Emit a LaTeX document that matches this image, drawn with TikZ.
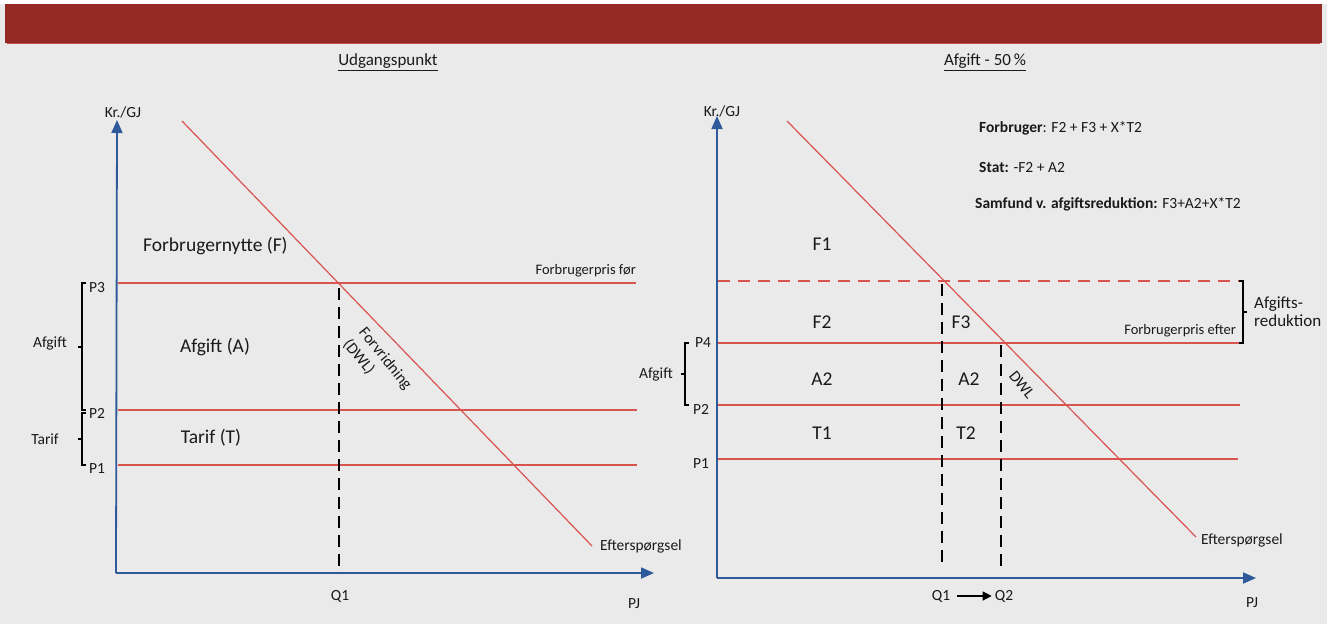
\documentclass[tikz,border=0pt]{standalone}
\usepackage{fontspec}
\setmainfont{Carlito}
\usetikzlibrary{arrows.meta}
\definecolor{bg}{HTML}{EAEAEA}
\definecolor{barred}{HTML}{952A25}
\definecolor{barline}{HTML}{C0504D}
\definecolor{dred}{HTML}{D9534F}
\definecolor{axblue}{HTML}{2E5A9C}
\definecolor{txt}{HTML}{1A1A1A}
\tikzset{
  axis/.style={axblue,line width=1.8pt,-{Triangle[length=13pt,width=11pt]}},
  demand/.style={dred,line width=1.2pt},
  price/.style={dred,line width=1.5pt},
  pricedash/.style={dred,line width=1.5pt,dash pattern=on 12pt off 8pt},
  qdash/.style={black,line width=1.5pt,dash pattern=on 12pt off 7pt},
  brk/.style={black,line width=1.3pt},
  xs/.style={text=txt,font=\fontsize{14.5}{16}\selectfont,inner sep=0pt},
  sm/.style={text=txt,font=\fontsize{15.5}{18}\selectfont,inner sep=0pt},
  md/.style={text=txt,font=\fontsize{17}{19}\selectfont,inner sep=0pt},
  lg/.style={text=txt,font=\fontsize{19.5}{22}\selectfont,inner sep=0pt},
  rot/.style={text=txt,font=\fontsize{16}{18}\selectfont,inner sep=0pt,rotate=-51},
}
\begin{document}
\begin{tikzpicture}[x=1pt,y=-1pt]
\useasboundingbox (0,0) rectangle (1327,624);
\fill[bg] (0,0) rectangle (1327,624);
\fill[white] (0,0) rectangle (1327,4);
\fill[barred] (5,4) rectangle (1322,43);
\draw[barline,line width=1pt] (7,43.5) -- (1320,43.5);

% ===== Left chart =====
\node[md] (t1) at (388,62) {\underline{Udgangspunkt}};
\coordinate (LO) at (116,573);
\coordinate (LY) at (117,120);
\coordinate (LX) at (654,573);
\draw[axis] (LO) -- (LY);
\draw[axis] (LO) -- (LX);
\node[sm] (lkr) at (123,112) {Kr./GJ};
\node[sm] (lpj) at (634,604) {PJ};

\coordinate (LD1) at (182,121);
\coordinate (LD2) at (592,546);
\draw[demand] (LD1) -- (LD2);
\node[sm,anchor=west] (lef) at (600,546) {Efterspørgsel};

\coordinate (LP3a) at (118,283); \coordinate (LP3b) at (636,283);
\coordinate (LP2a) at (118,410); \coordinate (LP2b) at (637,410);
\coordinate (LP1a) at (118,465); \coordinate (LP1b) at (637,465);
\draw[price] (LP3a) -- (LP3b);
\draw[price] (LP2a) -- (LP2b);
\draw[price] (LP1a) -- (LP1b);
\node[xs,anchor=east] (lfb) at (636,271) {Forbrugerpris før};

\coordinate (LQt) at (339,288); \coordinate (LQb) at (339,573);
\draw[qdash] (LQt) -- (LQb);
\node[sm] (lq1) at (340,596) {Q1};

\node[lg,anchor=west] (lF) at (143,246) {Forbrugernytte (F)};
\node[lg] (lA) at (215,347) {Afgift (A)};
\node[lg] (lT) at (211,438) {Tarif (T)};
\node[rot] (lfv) at (385,359) {Forvridning};
\node[rot] (ldwl) at (359,357) {(DWL)};

\node[sm] (lp3) at (97,288) {P3};
\node[sm] (lp2) at (97,413) {P2};
\node[sm] (lp1) at (97,469) {P1};
\draw[brk] (86,283) -- (82,283) -- (82,410) -- (86,410);
\draw[brk] (82,347) -- (78,347);
\draw[brk] (86,413) -- (82,413) -- (82,465) -- (86,465);
\draw[brk] (82,439) -- (78,439);
\node[sm] (laf) at (50,343) {Afgift};
\node[sm] (lta) at (45,439) {Tarif};

% ===== Right chart =====
\node[md] (t2) at (985,62) {\underline{Afgift - 50\,\%}};
\coordinate (RO) at (717,578);
\coordinate (RY) at (717,116);
\coordinate (RX) at (1256,578);
\draw[axis] (RO) -- (RY);
\draw[axis] (RO) -- (RX);
\node[sm] (rkr) at (722,111) {Kr./GJ};
\node[sm] (rpj) at (1252,603) {PJ};

\coordinate (RD1) at (787,121);
\coordinate (RD2) at (1196,537);
\draw[demand] (RD1) -- (RD2);
\node[sm,anchor=west] (ref) at (1201,540) {Efterspørgsel};

\coordinate (RPfa) at (718,281); \coordinate (RPfb) at (1240,281);
\coordinate (RP4a) at (718,343); \coordinate (RP4b) at (1240,343);
\coordinate (RP2a) at (718,405); \coordinate (RP2b) at (1240,405);
\coordinate (RP1a) at (718,459); \coordinate (RP1b) at (1238,459);
\draw[pricedash] (RPfa) -- (RPfb);
\draw[price] (RP4a) -- (RP4b);
\draw[price] (RP2a) -- (RP2b);
\draw[price] (RP1a) -- (RP1b);
\node[xs,anchor=east] (rfe) at (1236,331) {Forbrugerpris efter};

\coordinate (RQ1t) at (942,284); \coordinate (RQ1b) at (942,568);
\coordinate (RQ2t) at (1001,345); \coordinate (RQ2b) at (1001,568);
\draw[qdash] (RQ1t) -- (RQ1b);
\draw[qdash] (RQ2t) -- (RQ2b);
\node[sm] (rq1) at (941,596) {Q1};
\node[sm] (rq2) at (1004,596) {Q2};
\draw[black,line width=1.3pt,-{Triangle[length=9pt,width=9pt]}] ([xshift=7pt]rq1.east) -- ([xshift=-3pt]rq2.west);

\node[lg] (rF1) at (822,244) {F1};
\node[lg] (rF2) at (822,322) {F2};
\node[lg] (rF3) at (961,322) {F3};
\node[lg] (rA2a) at (822,379) {A2};
\node[lg] (rA2b) at (969,379) {A2};
\node[lg] (rT1) at (822,433) {T1};
\node[lg] (rT2) at (966,433) {T2};
\node[rot] (rdwl) at (1022,385) {DWL};

\node[sm] (rp4) at (703,343) {P4};
\node[sm] (rp2) at (701,409) {P2};
\node[sm] (rp1) at (701,464) {P1};
\draw[brk] (689,343) -- (685,343) -- (685,405) -- (689,405);
\draw[brk] (685,374) -- (681,374);
\node[sm] (raf) at (656,374) {Afgift};

\draw[brk] (1239,281) -- (1243,281) -- (1243,343) -- (1239,343);
\draw[brk] (1243,312) -- (1247,312);
\node[md,align=left,anchor=west] (rred) at (1254,312) {Afgifts-\\[-1pt]reduktion};

\node[sm,anchor=west] (rt1) at (979,128) {\textbf{Forbruger}: F2 + F3 + X*T2};
\node[sm,anchor=west] (rt2) at (979,167) {\textbf{Stat:} -F2 + A2};
\node[sm,anchor=west] (rt3) at (975,204) {\textbf{Samfund v. afgiftsreduktion:} F3+A2+X*T2};
\end{tikzpicture}
\end{document}
